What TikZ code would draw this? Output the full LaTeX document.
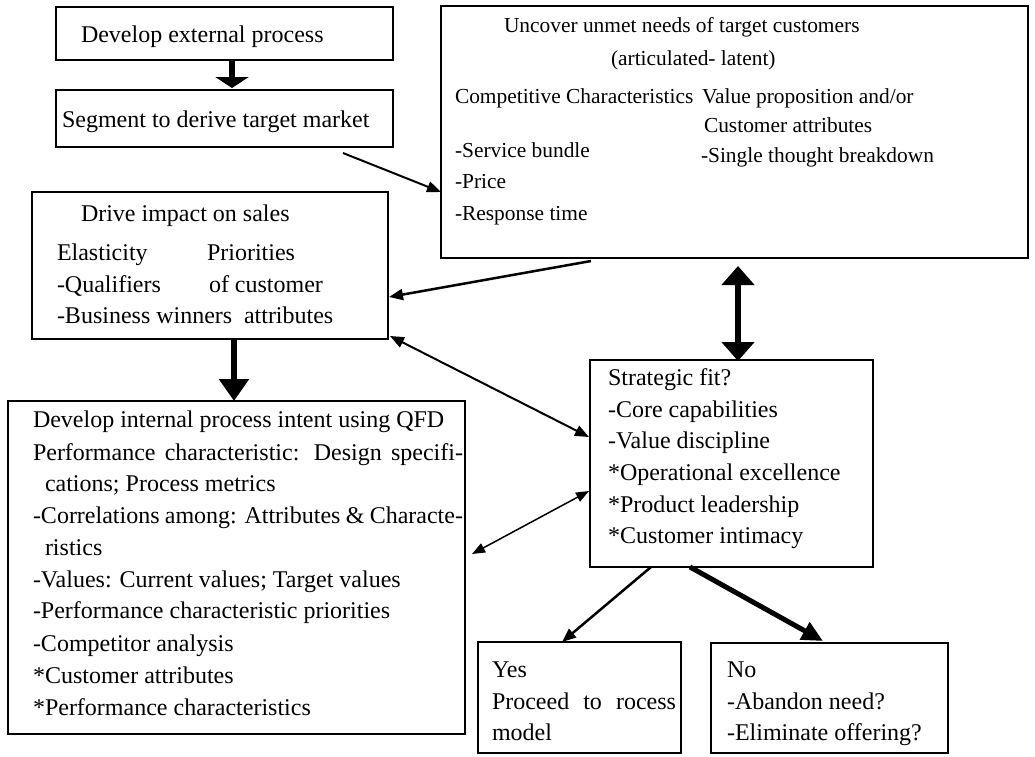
\documentclass[tikz,border=0pt]{standalone}
\usepackage{fontspec}
\setmainfont{Liberation Serif}
\usetikzlibrary{arrows.meta,calc}
\begin{document}
\begin{tikzpicture}[x=1pt,y=-1pt,
  box/.style={draw, line width=1.6pt, inner sep=0pt, outer sep=0pt, anchor=north west},
  txt/.style={inner sep=0pt, outer sep=0pt, anchor=base west, font=\fontsize{24pt}{28pt}\selectfont},
  stxt/.style={inner sep=0pt, outer sep=0pt, anchor=base west, font=\fontsize{21.4pt}{25pt}\selectfont},
  thin/.style={line width=2pt, -{Triangle[width=11pt,length=14pt]}},
  thinboth/.style={line width=2pt, {Triangle[width=11pt,length=14pt]}-{Triangle[width=11pt,length=14pt]}},
  fat/.style={line width=6pt}]
\useasboundingbox (0,0) rectangle (1035,756);
% boxes
\node[box, minimum width=337pt, minimum height=53pt] (ext) at (56,7) {};
\node[box, minimum width=337pt, minimum height=57pt] (seg) at (56,90) {};
\node[box, minimum width=356pt, minimum height=147pt] (drive) at (32,192) {};
\node[box, minimum width=587pt, minimum height=252pt] (uncover) at (441,6) {};
\node[box, minimum width=457pt, minimum height=333pt] (qfd) at (8,401) {};
\node[box, minimum width=283pt, minimum height=207pt] (strat) at (590,360) {};
\node[box, minimum width=203pt, minimum height=111pt] (yes) at (478,642) {};
\node[box, minimum width=237pt, minimum height=110pt] (no) at (711,643) {};
% texts
\node[txt] (t1) at (81,42) {Develop external process};
\node[txt] (t2) at (62,127) {Segment to derive target market};
\node[txt] (d1) at (81,221) {Drive impact on sales};
\node[txt] (d2) at (57,260) {Elasticity};
\node[txt] (d3) at (207,260) {Priorities};
\node[txt] (d4) at (57,292) {-Qualifiers};
\node[txt] (d5) at (209,292) {of customer};
\node[txt] (d6) at (57,323) {-Business winners};
\node[txt] (d7) at (244,323) {attributes};
\node[stxt] (u1) at (504,32) {Uncover unmet needs of target customers};
\node[stxt] (u2) at (611,65) {(articulated- latent)};
\node[stxt] (u3) at (455,103) {Competitive Characteristics};
\node[stxt] (u4) at (702,103) {Value proposition and/or};
\node[stxt] (u5) at (704,132) {Customer attributes};
\node[stxt] (u6) at (455,157) {-Service bundle};
\node[stxt] (u7) at (701,162) {-Single thought breakdown};
\node[stxt] (u8) at (455,188) {-Price};
\node[stxt] (u9) at (455,220) {-Response time};
\node[txt] (q1) at (33,427) {Develop internal process intent using QFD};
\node[txt] (q2) at (33,460) {\makebox[430pt][s]{Performance characteristic: Design specifi-}};
\node[txt] (q3) at (45,491) {cations; Process metrics};
\node[txt] (q4) at (33,523) {\makebox[430pt][s]{-Correlations among: Attributes \& Characte-}};
\node[txt] (q5) at (45,555) {ristics};
\node[txt] (q6) at (33,587) {-Values: Current values; Target values};
\node[txt] (q7) at (33,618) {-Performance characteristic priorities};
\node[txt] (q8) at (33,651) {-Competitor analysis};
\node[txt] (q9) at (33,683) {*Customer attributes};
\node[txt] (q10) at (33,715) {*Performance characteristics};
\node[txt] (s1) at (608,385) {Strategic fit?};
\node[txt] (s2) at (608,417) {-Core capabilities};
\node[txt] (s3) at (608,448) {-Value discipline};
\node[txt] (s4) at (608,480) {*Operational excellence};
\node[txt] (s5) at (608,512) {*Product leadership};
\node[txt] (s6) at (608,543) {*Customer intimacy};
\node[txt] (y1) at (492,677) {Yes};
\node[txt] (y2) at (492,709) {\makebox[184pt][s]{Proceed to rocess}};
\node[txt] (y3) at (492,740) {model};
\node[txt] (n1) at (727,677) {No};
\node[txt] (n2) at (727,709) {-Abandon need?};
\node[txt] (n3) at (727,740) {-Eliminate offering?};
% connectors
\draw[fat, -{Triangle[width=33pt,length=11pt]}] ($(ext.south west)+(176,0)$) -- ($(seg.north west)+(176,-2)$);
\draw[thin] ($(seg.south west)+(287,6)$) -- ($(uncover.north west)+(0,186)$);
\draw[line width=2.5pt, -{Triangle[width=11pt,length=14pt]}] ($(uncover.south west)+(150,3)$) -- ($(drive.north east)+(1,105)$);
\draw[fat, {Triangle[width=32pt,length=19pt]}-{Triangle[width=32pt,length=19pt]}] ($(uncover.south west)+(297,8)$) -- ($(strat.north west)+(148,1)$);
\draw[fat, -{Triangle[width=29pt,length=22pt]}] ($(drive.south west)+(202,0)$) -- ($(qfd.north west)+(226,0)$);
\draw[thinboth] ($(drive.south east)+(2,-3)$) -- ($(strat.north west)+(-1,77)$);
\draw[line width=1.5pt, {Triangle[width=10pt,length=13pt]}-{Triangle[width=10pt,length=13pt]}] ($(qfd.north east)+(7,153)$) -- ($(strat.north west)+(-1,131)$);
\draw[line width=2.5pt, -{Triangle[width=11pt,length=14pt]}] ($(strat.south west)+(61,0)$) -- ($(yes.north west)+(84,0)$);
\draw[line width=5pt, -{Triangle[width=19pt,length=21pt]}] ($(strat.south west)+(100,0)$) -- ($(no.north west)+(112,-2)$);
\end{tikzpicture}
\end{document}
